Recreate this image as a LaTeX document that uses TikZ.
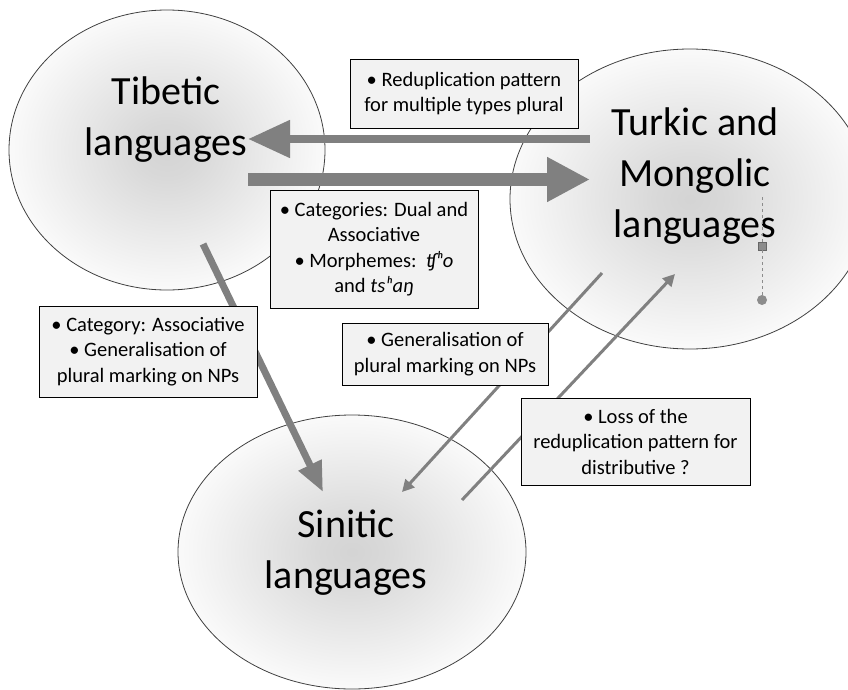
\documentclass[tikz,border=0pt]{standalone}
\usepackage{fontspec}
\setmainfont{Carlito}
\usepackage{tikz}
\usetikzlibrary{shapes.geometric,arrows.meta}
\pgfdeclareradialshading{glow}{\pgfpoint{0bp}{0bp}}{color(0bp)=(black!17); color(5bp)=(black!15); color(25bp)=(black!2); color(50bp)=(black!2)}

\begin{document}
\begin{tikzpicture}[x=1pt, y=-1pt,
  lang/.style={ellipse, draw=black!75, line width=0.8pt, shading=glow, inner sep=0pt},
  langname/.style={align=center, inner sep=0pt, font=\fontsize{40}{51}\selectfont},
  note/.style={rectangle, draw=black, line width=0.9pt, fill=black!5, align=center, inner sep=0pt, font=\fontsize{20.5}{25.5}\selectfont},
  flow/.style={draw=black!50, line width=3pt, -{Triangle[width=12pt,length=12pt]}}]
  \useasboundingbox (0,0) rectangle (848,690);
  \clip (0,0) rectangle (848,690);
  \node[lang, minimum width=316pt, minimum height=280pt] (tib) at (167,150) {};
  \node[lang, minimum width=360pt, minimum height=300pt] (tur) at (690,199) {};
  \node[lang, minimum width=348pt, minimum height=274pt] (sin) at (352,552) {};
  \node[langname] (tibname) at (166,120) {Tibetic\\languages};
  \node[langname] (turname) at (695,176) {Turkic and\\Mongolic\\languages};
  \node[langname] (sinname) at (346,553) {Sinitic\\languages};

  \coordinate (turW) at (590,139);
  \coordinate (tibE) at (248,139);
  \coordinate (tibO) at (248,179.5);
  \coordinate (turI) at (590,179.5);
  \coordinate (tibS) at (203,244);
  \coordinate (sinN) at (323,492);
  \coordinate (turSW) at (602,273);
  \coordinate (sinNE) at (402,492);
  \coordinate (sinE) at (462,500);
  \coordinate (turS) at (675,274);
  \draw[flow, line width=8pt, -{Triangle[width=36pt,length=42pt]}] (turW) -- (tibE);
  \draw[flow, line width=13pt, -{Triangle[width=42pt,length=43pt]}] (tibO) -- (turI);
  \draw[flow, line width=7pt, -{Triangle[width=24pt,length=30pt]}] (tibS) -- (sinN);
  \draw[flow] (turSW) -- (sinNE);
  \draw[flow] (sinE) -- (turS);

  \node[note, minimum width=228pt, minimum height=69pt] (redup) at (464,93.5)
    {• Reduplication pattern\\for multiple types plural};
  \node[note, minimum width=208pt, minimum height=118pt] (dual) at (374,249)
    {• Categories: Dual and\\Associative\\• Morphemes:\ \ \textit{ʧʰo}\\and \textit{tsʰaŋ}};
  \node[note, minimum width=218pt, minimum height=91pt] (assoc) at (148,351.5)
    {• Category: Associative\\• Generalisation of\\plural marking on NPs};
  \node[note, minimum width=206pt, minimum height=62pt] (general) at (445,354)
    {• Generalisation of\\plural marking on NPs};
  \node[note, minimum width=229pt, minimum height=87pt] (loss) at (635.5,441.5)
    {• Loss of the\\reduplication pattern for\\distributive ?};

  \coordinate (htop) at (762,197);
  \node[rectangle, draw=black!60, fill=black!45, minimum size=8pt, inner sep=0pt] (hsq) at (762,246) {};
  \node[circle, fill=black!45, minimum size=10pt, inner sep=0pt] (hdot) at (762,300) {};
  \draw[black!45, dashed, line width=0.6pt] (htop) -- (hsq) -- (hdot);
\end{tikzpicture}
\end{document}
